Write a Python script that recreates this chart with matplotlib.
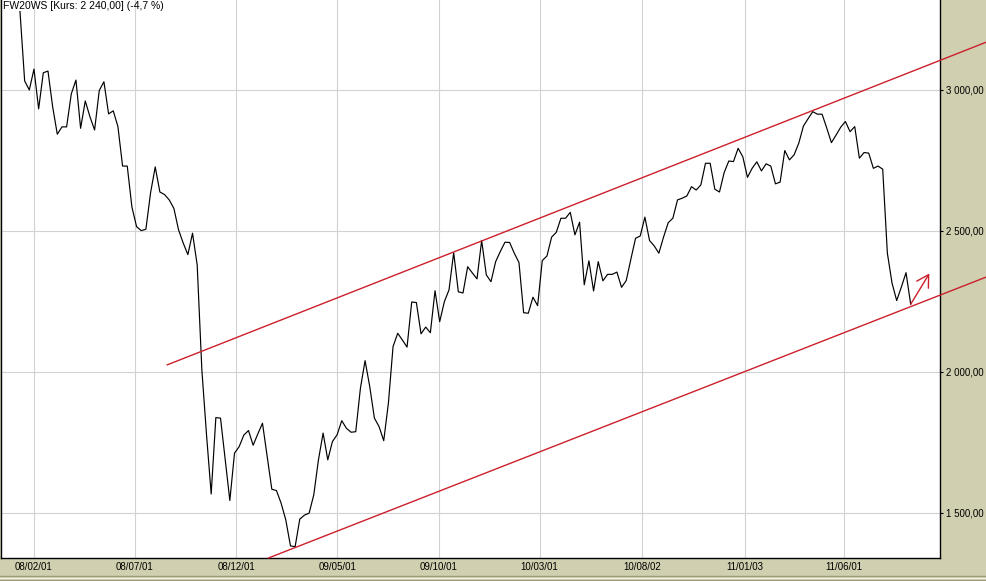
import matplotlib as mpl

mpl.use("Agg")

import matplotlib.pyplot as plt
import pandas as pd

# weekly closes, FW20WS
START = "2008-01-11"
CLOSE = [
    3278, 3032, 3000, 3074, 2933, 3061, 3067, 2941, 2843, 2869,
    2869, 2986, 3035, 2864, 2961, 2905, 2858, 2998, 3029, 2915,
    2926, 2870, 2730, 2730, 2585, 2515, 2501, 2506, 2635, 2727,
    2638, 2629, 2610, 2580, 2504, 2457, 2416, 2492, 2379, 2007,
    1777, 1567, 1838, 1836, 1691, 1544, 1712, 1735, 1776, 1792,
    1740, 1780, 1818, 1702, 1584, 1579, 1534, 1475, 1383, 1380,
    1478, 1492, 1499, 1564, 1688, 1783, 1688, 1753, 1777, 1827,
    1800, 1786, 1788, 1942, 2040, 1948, 1836, 1806, 1756, 1889,
    2090, 2137, 2113, 2088, 2248, 2246, 2135, 2159, 2139, 2288,
    2178, 2249, 2291, 2423, 2284, 2280, 2373, 2351, 2330, 2466,
    2344, 2320, 2391, 2427, 2460, 2459, 2421, 2388, 2210, 2208,
    2265, 2235, 2395, 2411, 2478, 2495, 2545, 2545, 2566, 2486,
    2531, 2309, 2394, 2287, 2391, 2323, 2346, 2346, 2354, 2300,
    2324, 2400, 2474, 2482, 2549, 2466, 2447, 2421, 2478, 2529,
    2545, 2610, 2616, 2624, 2657, 2645, 2663, 2740, 2740, 2648,
    2638, 2707, 2748, 2746, 2793, 2763, 2690, 2722, 2745, 2713,
    2738, 2730, 2667, 2673, 2785, 2752, 2770, 2811, 2872, 2898,
    2923, 2914, 2914, 2865, 2813, 2840, 2868, 2888, 2852, 2870,
    2758, 2778, 2776, 2722, 2730, 2719, 2421, 2315, 2253, 2301,
    2352, 2240,
]

# trend channel (date, value) end points
UPPER = (("2008-08-19", 2025), ("2012-01-01", 3170))
LOWER = (("2009-01-18", 1340), ("2012-01-01", 2337))
ARROW = (("2011-09-09", 2240), ("2011-10-07", 2349))

TICK_DATES = ["2008-02-01", "2008-07-01", "2008-12-01", "2009-05-01", "2009-10-01",
              "2010-03-01", "2010-08-02", "2011-01-03", "2011-06-01"]
TICK_LABELS = ["08/02/01", "08/07/01", "08/12/01", "09/05/01", "09/10/01",
               "10/03/01", "10/08/02", "11/01/03", "11/06/01"]
Y_TICKS = [1500, 2000, 2500, 3000]
Y_LABELS = ["1 500,00", "2 000,00", "2 500,00", "3 000,00"]
TITLE = "FW20WS [Kurs: 2 240,00] (-4,7 %)"

KHAKI = "#d0cfb0"
RED = "#cc1f2b"
FONT = ["Liberation Sans", "DejaVu Sans"]

W, H = 987, 581
fig = plt.figure(figsize=(W / 100, H / 100), dpi=100, facecolor=KHAKI)
ax = fig.add_axes([1 / W, 23 / H, 939 / W, 1 - 23 / H])
ax.set_facecolor("white")

dates = pd.date_range(START, periods=len(CLOSE), freq="7D")
ax.plot(dates, CLOSE, color="black", lw=0.85, zorder=3)

for (d0, v0), (d1, v1) in (UPPER, LOWER):
    ax.plot([pd.Timestamp(d0), pd.Timestamp(d1)], [v0, v1], color=RED, lw=1.0,
            clip_on=False, zorder=4)

(a0, v0), (a1, v1) = ARROW
ax.annotate("", xy=(pd.Timestamp(a1), v1), xytext=(pd.Timestamp(a0), v0),
            arrowprops=dict(arrowstyle="->,head_length=0.6,head_width=0.35", color=RED,
                            lw=1.0, mutation_scale=14, shrinkA=0, shrinkB=0), zorder=5)

ax.set_xlim(pd.Timestamp("2007-12-13 12:00"), pd.Timestamp("2011-10-23"))
ax.set_ylim(1340, 3319)

ax.set_xticks([pd.Timestamp(d) for d in TICK_DATES])
ax.set_xticklabels(TICK_LABELS, fontsize=7, family=FONT)
ax.yaxis.tick_right()
ax.set_yticks(Y_TICKS)
ax.set_yticklabels(Y_LABELS, fontsize=7, family=FONT)
ax.tick_params(axis="y", direction="out", length=2.5, width=0.8, pad=1.5, colors="black")
ax.tick_params(axis="x", direction="out", length=0, pad=3, colors="black")

ax.grid(True, color="#d2d2d2", lw=0.8, zorder=0)
ax.set_axisbelow(True)

for side in ("left", "bottom", "right"):
    ax.spines[side].set_color("black")
    ax.spines[side].set_linewidth(1.0)
ax.spines["top"].set_visible(False)

fig.text(3 / W, 1 - 1 / H, TITLE, fontsize=7.5, family=FONT, va="top", ha="left")

# double rule at the bottom of the frame
for yy, col in ((575.5, "#9c9b74"), (577.5, "#f2f2e6"), (579.5, "#9c9b74")):
    fig.add_artist(plt.Line2D([0, 1], [1 - yy / H] * 2, color=col, lw=1.0,
                              transform=fig.transFigure))

fig.savefig("out.png", dpi=100, facecolor=KHAKI)
